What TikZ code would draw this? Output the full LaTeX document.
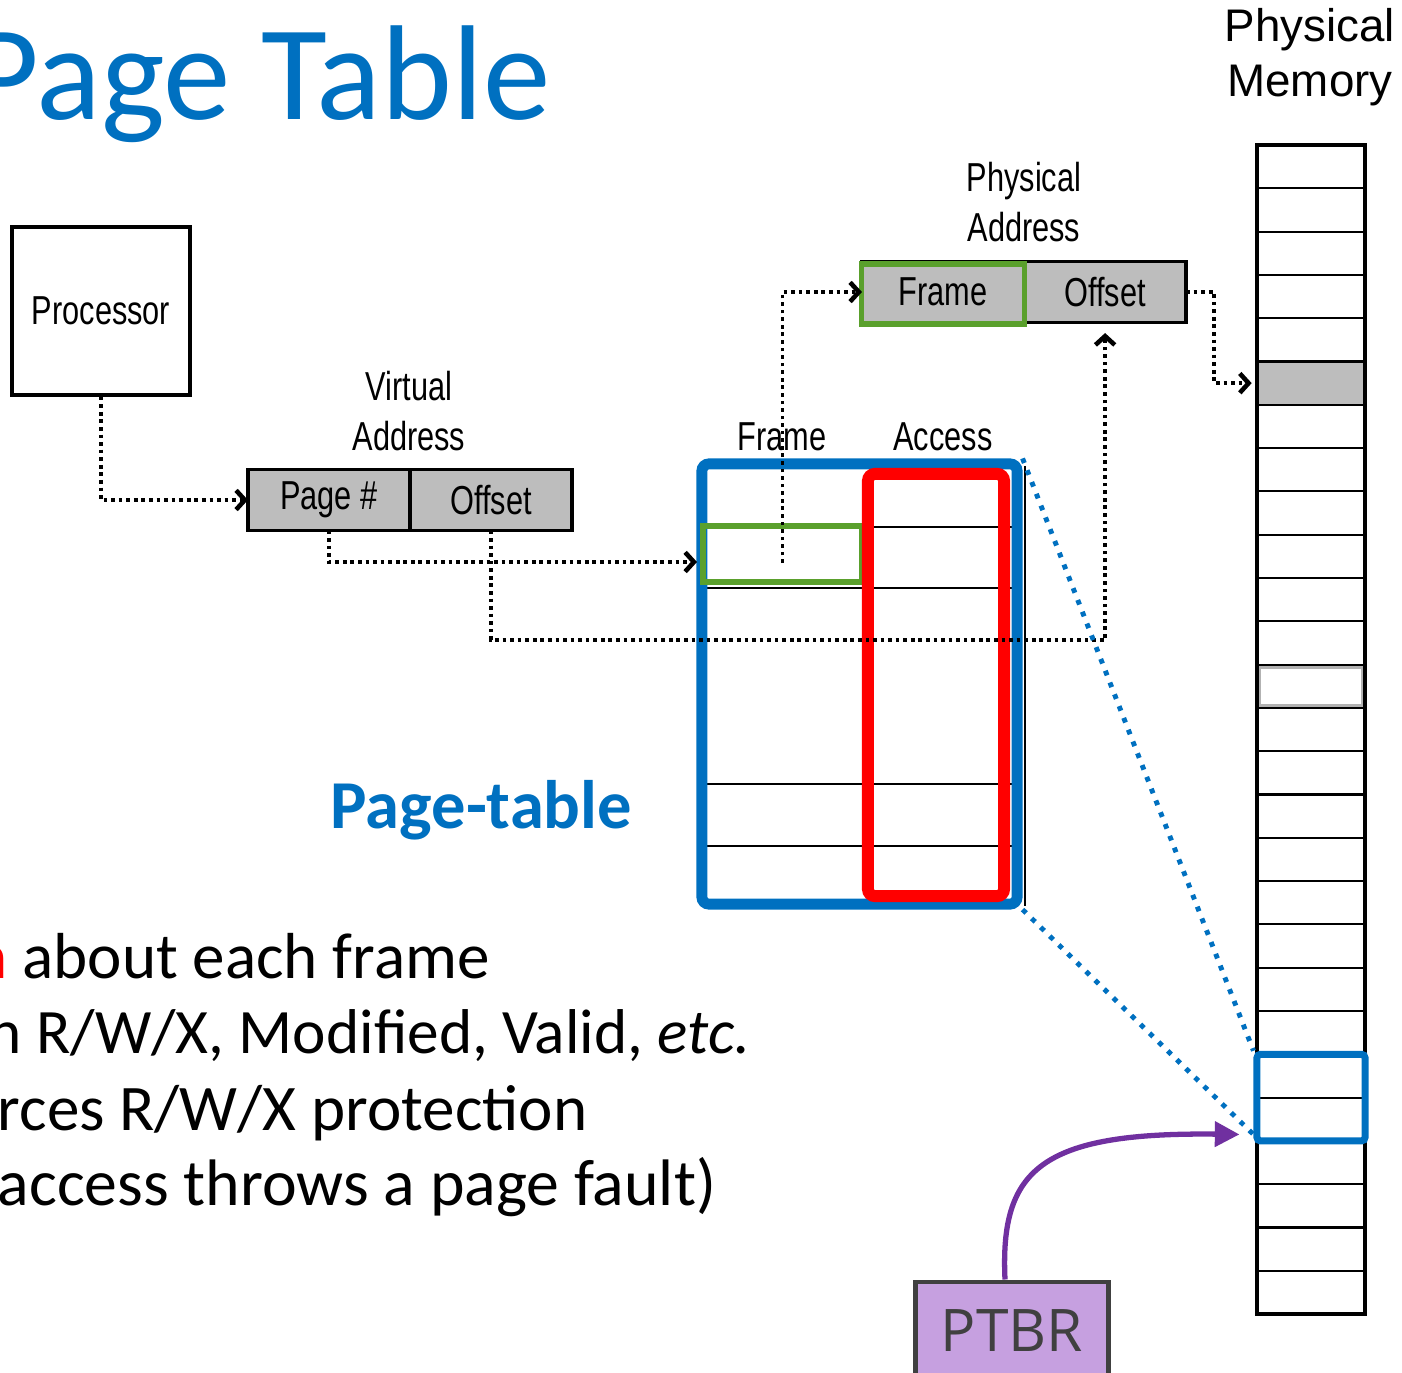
\documentclass[tikz,border=0pt]{standalone}
\usepackage{fontspec}
\setmainfont{Carlito}
\newfontfamily\narrowfont[FakeStretch=0.76]{Liberation Sans}
\newfontfamily\helvfont{Liberation Sans}
\newfontfamily\ptbrfont{Open Sans}
\usetikzlibrary{arrows.meta,positioning,fit}
\definecolor{Blue}{HTML}{0070C0}
\definecolor{Red}{HTML}{FF0000}
\definecolor{Green}{HTML}{5AA02C}
\definecolor{Purple}{HTML}{7030A0}
\definecolor{Lilac}{HTML}{C6A0E0}
\definecolor{DarkGray}{HTML}{404040}
\definecolor{Hatch}{HTML}{BDBDBD}

\begin{document}
\begin{tikzpicture}[x=0.01cm,y=-0.01cm,
  link/.style={line width=1.05pt,dash pattern=on 1.05pt off 1.1pt,-{Straight Barb[length=2.5pt,width=5.5pt,line width=1.3pt]}},
  cell/.style={draw,line width=1pt,fill=Hatch,minimum width=1.62cm,minimum height=0.61cm,inner sep=0,outer sep=0,font=\narrowfont\fontsize{11.5}{13}\selectfont},
  memcell/.style={draw,line width=0.6pt,minimum width=1.08cm,minimum height=0.433cm,inner sep=0,outer sep=0},
  lbl/.style={font=\narrowfont\fontsize{11.5}{14.2}\selectfont,align=center},
  ptlink/.style={Blue,line width=1.4pt,dash pattern=on 1.4pt off 2.2pt}]
  \clip (0,0) rectangle (1402,1373);
  \node[anchor=base west,inner sep=0,font=\fontsize{38.4}{40}\selectfont,text=Blue] (title) at (-31,120) {Page Table};

  % processor and virtual address
  \node[draw,line width=1pt,minimum width=1.78cm,minimum height=1.68cm,font=\narrowfont\fontsize{11.5}{13}\selectfont] (proc) at (101,311) {Processor};
  \node[cell] (page) at (329,500) {Page \#};
  \node[cell,right=0pt of page] (voff) {Offset};
  \node[lbl] (vaddr) at (409,411) {Virtual\\Address};

  % physical address
  \node[cell] (frame) at (943,292) {Frame};
  \node[cell,right=0pt of frame] (poff) {Offset};
  \node[draw=Green,line width=1.5pt,minimum width=1.63cm,minimum height=0.6cm,inner sep=0] (frmark) at (943,294) {};
  \node[lbl] (paddr) at (1024,202) {Physical\\Address};

  % page table
  \node[lbl] (fcol) at (782,437) {Frame};
  \node[lbl] (acol) at (943,437) {Access};
  \foreach \y in {527,588,784,846}
    \draw[line width=0.8pt] (705,\y) -- (1015,\y);
  \draw[line width=0.6pt] (1025,466) -- (1025,906);
  \node[draw=Blue,line width=3.1pt,rounded corners=2pt,minimum width=3.15cm,minimum height=4.40cm,inner sep=0] (ptable) at (859.5,684) {};
  \node[draw=Green,line width=1.7pt,minimum width=1.59cm,minimum height=0.56cm,inner sep=0] (entry) at (782.5,554) {};
  \node[draw=Red,line width=3.4pt,rounded corners=2pt,minimum width=1.36cm,minimum height=4.22cm,inner sep=0] (access) at (936,685) {};
  \node[anchor=base west,inner sep=0,font=\bfseries\fontsize{19.5}{22}\selectfont,text=Blue] (ptname) at (330,828) {Page-table};

  % physical memory
  \node[font=\helvfont\fontsize{13}{15.6}\selectfont,align=center] (memname) at (1310,57) {Physical\\Memory};
  \foreach \i in {0,...,26}
    \node[memcell] (m\i) at (1311,{166.65+43.3*\i}) {};
  \node[memcell,fill=Hatch] at (m5) {};
  \node[draw=gray!60,line width=0.8pt,minimum width=1.02cm,minimum height=0.38cm,inner sep=0] at (m12) {};
  \node[draw,line width=1.1pt,inner sep=0,fit=(m0)(m26)] (mem) {};
  \node[draw=Blue,line width=2pt,rounded corners=1pt,inner sep=0,fit=(m21)(m22)] (ptmem) {};

  % lookups
  \coordinate (ptin) at (697,562);
  \draw[link] (proc.south) |- (page.west);
  \draw[link] (page.south) |- (ptin);
  \draw[link,shorten >=3pt] (voff.south) |- (1105,640) -| (poff.south);
  \draw[link] ([yshift=-0.09cm]entry.center) |- (frame.west);
  \draw[link,shorten >=1.5pt] (poff.east) -- ++(28,0) |- (m5.west);
  \draw[ptlink] (ptable.north east) -- (ptmem.north west);
  \draw[ptlink] (ptable.south east) -- ([yshift=0.1cm]ptmem.south west);

  % base register
  \node[draw=DarkGray,fill=Lilac,line width=1.4pt,minimum width=1.93cm,minimum height=0.98cm,font=\ptbrfont\fontsize{16.7}{18}\selectfont,text=DarkGray] (ptbr) at (1012,1331) {PTBR};
  \draw[Purple,line width=1.5pt,-{Triangle[length=7pt,width=7pt]}] ([xshift=-0.07cm]ptbr.north) .. controls (1000,1170) and (1040,1132) .. ([shift={(-14,-10)}]ptmem.south west);

  % bullet text
  \node[anchor=base west,inner sep=0,font=\fontsize{18.5}{22}\selectfont] (txta) at (-27,978) {\textcolor{Red}{n} about each frame};
  \node[anchor=base west,inner sep=0,font=\fontsize{18}{22}\selectfont] (txtb) at (-12,1053) {n R/W/X, Modified, Valid, \textit{etc.}};
  \node[anchor=base west,inner sep=0,font=\fontsize{18.5}{22}\selectfont] (txtc) at (-3,1130) {rces R/W/X protection};
  \node[anchor=base west,inner sep=0,font=\fontsize{18.7}{22}\selectfont] (txtd) at (-3,1205) {access throws a page fault)};
\end{tikzpicture}
\end{document}
